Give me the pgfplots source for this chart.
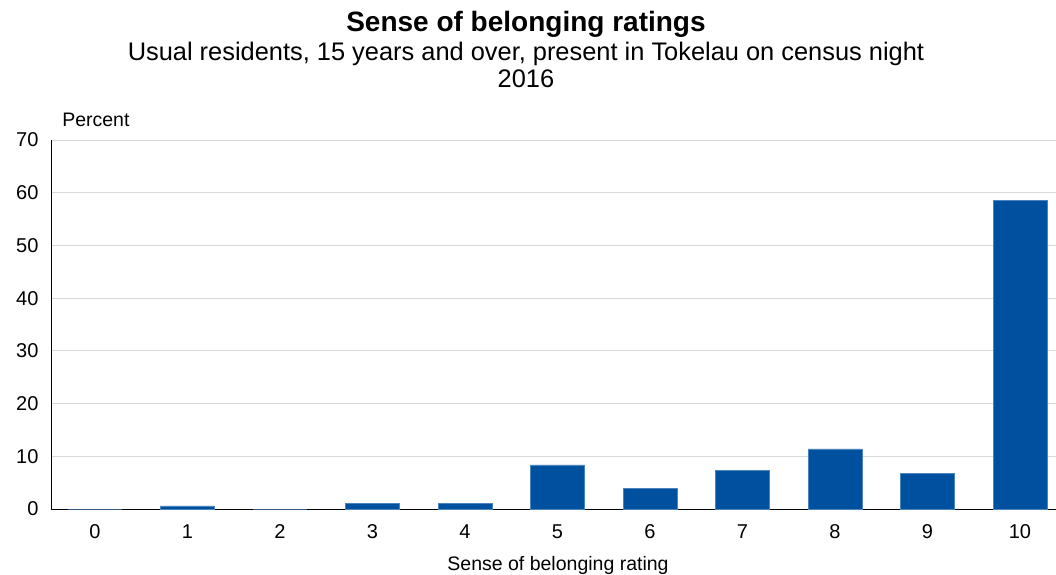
\documentclass[border=0pt]{standalone}
\usepackage{pgfplots}
\pgfplotsset{compat=1.18}
\usepackage{fontspec}
\setmainfont{Liberation Sans}
\definecolor{barblue}{RGB}{0,80,160}
\definecolor{gridgray}{RGB}{217,217,217}
\begin{document}
\begin{tikzpicture}
\begin{axis}[
  name=ax,
  scale only axis,
  width=1005bp, height=369bp,
  xmin=-0.476, xmax=10.39,
  ymin=0, ymax=70,
  ytick={0,10,...,70},
  xtick={0,1,...,10},
  axis x line*=bottom,
  axis y line*=left,
  axis line style={black, line width=0.9pt},
  major tick length=0pt,
  ymajorgrids,
  grid style={gridgray, line width=0.8pt},
  /pgf/number format/assume math mode=true,
  tick label style={font=\fontsize{20bp}{23bp}\selectfont},
  yticklabel style={xshift=-9bp},
  xticklabel style={yshift=-12bp},
  clip=false,
]
\addplot[ybar, bar width=0.58, fill=barblue, draw=barblue!70!white, line width=0.4pt] coordinates {
(0,0) (1,0.6) (2,0) (3,1.1) (4,1.1) (5,8.35) (6,3.9) (7,7.3) (8,11.4) (9,6.8) (10,58.6)
};
\node[font=\bfseries\fontsize{28bp}{32bp}\selectfont] at (rel axis cs:0.4726,1.313) {Sense of belonging ratings};
\node[font=\fontsize{25.4bp}{29bp}\selectfont] at (rel axis cs:0.4726,1.232) {Usual residents, 15 years and over, present in Tokelau on census night};
\node[font=\fontsize{25.4bp}{29bp}\selectfont] at (rel axis cs:0.4726,1.165) {2016};
\node[font=\fontsize{19.5bp}{22bp}\selectfont, anchor=west, inner sep=0pt] at (rel axis cs:0.011,1.054) {Percent};
\node[font=\fontsize{19.5bp}{22bp}\selectfont] at (rel axis cs:0.5045,-0.152) {Sense of belonging rating};
\end{axis}
\pgfresetboundingbox
\useasboundingbox ([xshift=-51bp,yshift=-66bp]ax.south west) rectangle ([yshift=140bp]ax.north east);
\end{tikzpicture}
\end{document}
